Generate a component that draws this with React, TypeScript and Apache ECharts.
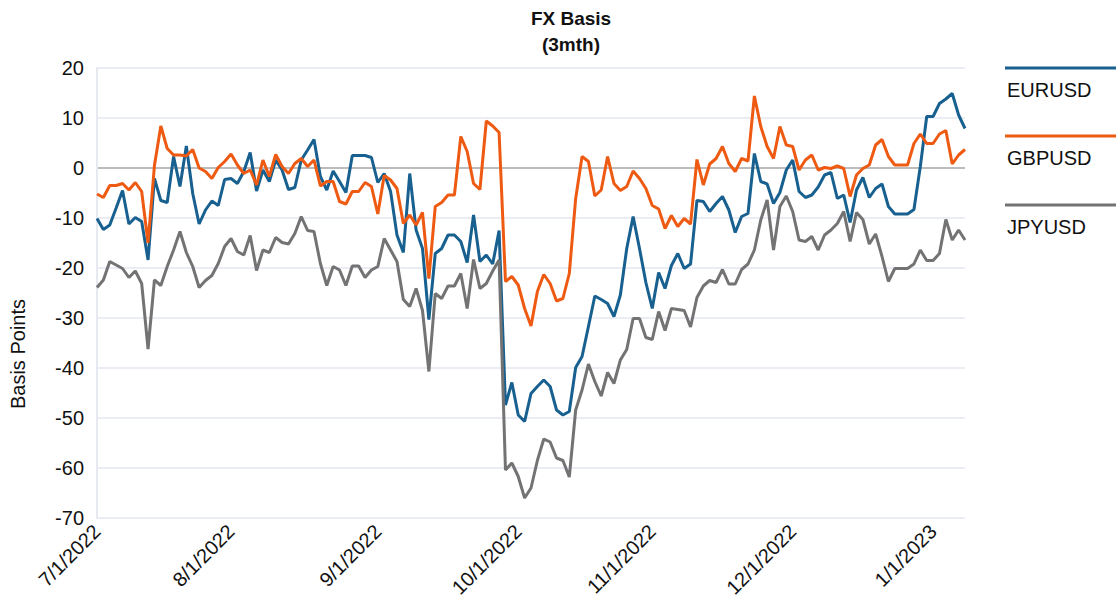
import React, { useEffect, useRef } from "react";
import * as echarts from "echarts";

const EURUSD = [
  -10.1, -12.3, -11.4, -8, -4.5, -11.2, -9.9, -10.7, -18.4, -2.1,
  -6.5, -6.9, 2.3, -3.7, 4.4, -5.1, -11.2, -8.4, -6.6, -7.5,
  -2.3, -2.1, -3.1, -0.7, 3.1, -4.6, -0.4, -2.7, 1.6, -0.4,
  -4.3, -3.9, 1.6, 3.6, 5.7, -1.7, -4.4, -0.6, -2.7, -4.9,
  2.5, 2.5, 2.5, 2.1, -2.9, -1.1, -4.7, -13.4, -16.9, -1.1,
  -12.4, -16.1, -30.3, -17.1, -16.1, -13.4, -13.4, -14.7, -18.9, -9.4,
  -18.7, -17.4, -19.2, -12.5, -47.4, -42.9, -49.4, -50.7, -45.1, -43.7,
  -42.4, -43.7, -48.4, -49.4, -48.7, -39.9, -37.7, -31.7, -25.6, -26.3,
  -27.1, -29.7, -25.4, -16.1, -9.7, -16.1, -22.9, -28.1, -20.9, -24.1,
  -19.5, -17.1, -20.1, -19.2, -6.5, -6.7, -8.7, -7.1, -5.7, -8.4,
  -12.9, -9.7, -9.1, 2.9, -2.7, -3.2, -7.1, -4.9, -0.4, 1.6,
  -4.7, -5.9, -5.4, -3.8, -1.4, -0.9, -6.1, -5.4, -10.9, -4.4,
  -1.9, -5.9, -4.1, -3.2, -7.7, -9.2, -9.2, -9.2, -8.3, 0.3,
  10.3, 10.3, 12.9, 13.8, 14.9, 10.6, 7.9,
];

const GBPUSD = [
  -5.2, -5.9, -3.5, -3.5, -3.1, -4.4, -2.9, -4.7, -15, 0.5,
  8.4, 3.9, 2.6, 2.6, 2.4, 3.7, 0, -0.7, -2.1, 0.1,
  1.3, 2.8, 0.6, -1.1, -0.4, -3.4, 1.6, -1.7, 2.7, 0.3,
  -1.1, 0.9, 1.9, 0.3, 1.6, -3.6, -2.7, -2.7, -6.7, -7.2,
  -4.7, -4.7, -2.9, -3.7, -9.2, -1.5, -2.4, -4.1, -11.1, -9.4,
  -11.4, -8.9, -22.1, -7.7, -6.9, -5.4, -5.4, 6.3, 3.3, -3.1,
  -4.3, 9.4, 8.4, 7.1, -22.7, -21.7, -23.4, -28.1, -31.6, -24.7,
  -21.3, -23.1, -26.6, -26.1, -21.1, -6.1, 2.3, 1.3, -5.6, -4.4,
  2.3, -3.1, -4.5, -3.7, -0.6, -2.1, -4.1, -7.5, -8.2, -12.1,
  -9.5, -11.7, -10.1, -11.2, 1.7, -3.4, 0.8, 1.9, 4.3, 0.9,
  -0.7, 1.9, 1.4, 14.4, 8.3, 4.3, 1.9, 8.3, 4.6, 4.3,
  -0.4, 1.6, 2.6, -0.4, 0.1, -0.1, 0.4, -0.1, -5.7, -1.4,
  -0.1, 0.6, 4.6, 5.7, 2.3, 0.6, 0.6, 0.6, 4.9, 6.8,
  4.9, 4.9, 6.8, 7.5, 0.8, 2.6, 3.7,
];

const JPYUSD = [
  -23.9, -22.4, -18.7, -19.4, -20.1, -21.9, -20.6, -23.1, -36.2, -22.4,
  -23.5, -19.7, -16.4, -12.7, -16.9, -19.7, -23.9, -22.5, -21.5, -19.1,
  -15.7, -14.1, -16.7, -17.4, -13.5, -20.5, -16.4, -16.9, -13.9, -14.9,
  -15.2, -13.1, -9.7, -12.5, -12.7, -19.1, -23.5, -19.7, -20.4, -23.5,
  -19.6, -19.6, -21.9, -20.4, -19.7, -14.1, -16.4, -18.7, -26.3, -27.7,
  -24.1, -28.5, -40.7, -25.1, -26.1, -23.6, -23.6, -21.1, -28.1, -18.3,
  -24.1, -23.1, -20.6, -18.4, -60.4, -59, -61.7, -66, -64, -58.5,
  -54.2, -54.8, -58, -58.5, -61.8, -48.4, -44.4, -39.2, -42.7, -45.6,
  -40.9, -43.1, -38.4, -36.3, -30.1, -30.1, -33.9, -34.3, -28.7, -32.5,
  -28.1, -28.3, -28.5, -31.8, -25.9, -23.6, -22.5, -22.9, -20.3, -23.2,
  -23.2, -20.3, -19.2, -16.4, -10.4, -6.4, -16.4, -7.7, -5.6, -8.7,
  -14.4, -14.7, -13.7, -16.4, -13.4, -12.4, -11.1, -8.7, -14.7, -8.9,
  -10.3, -15.2, -13.2, -17.7, -22.7, -20.1, -20.1, -20.1, -19.2, -16.4,
  -18.5, -18.5, -17.1, -10.3, -14.4, -12.4, -14.4,
];

const START_DATE = "2022-07-01";
const SERIES_NAMES = ["EURUSD", "GBPUSD", "JPYUSD"];
const COLORS = ["#17608f", "#ee5a12", "#737373"];
const Y_MIN = -70;
const Y_MAX = 20;
const Y_STEP = 10;

function weekdays(start: string, count: number): string[] {
  const out: string[] = [];
  const d = new Date(start + "T00:00:00Z");
  while (out.length < count) {
    const wd = d.getUTCDay();
    if (wd !== 0 && wd !== 6) out.push(d.toISOString().slice(0, 10));
    d.setUTCDate(d.getUTCDate() + 1);
  }
  return out;
}

const DATES = weekdays(START_DATE, EURUSD.length);

const FONT = "'Liberation Sans', Arial, Helvetica, sans-serif";
const FS = 20;

export default function App() {
  const ref = useRef<HTMLDivElement>(null);

  useEffect(() => {
    document.body.style.margin = "0";
    if (!ref.current) return;
    const chart = echarts.init(ref.current, undefined, { renderer: "svg" });

    const labelIdx = new Set<number>();
    DATES.forEach((d, i) => {
      if (i === 0 || d.slice(5, 7) !== DATES[i - 1].slice(5, 7)) labelIdx.add(i);
    });

    const tickVals: number[] = [];
    for (let v = Y_MIN; v <= Y_MAX; v += Y_STEP) tickVals.push(v);
    const splitColors = tickVals.map((v) => (v === 0 ? "#bcbcbc" : "#eaeef4"));

    const data = [EURUSD, GBPUSD, JPYUSD];

    const legendGraphics: any[] = [];
    const legendY = [68, 136, 205];
    SERIES_NAMES.forEach((name, i) => {
      legendGraphics.push({
        type: "line",
        shape: { x1: 1005, y1: legendY[i], x2: 1116, y2: legendY[i] },
        style: { stroke: COLORS[i], lineWidth: 3 },
      });
      legendGraphics.push({
        type: "text",
        x: 1007,
        y: legendY[i] + 22,
        style: {
          text: name,
          font: `${FS}px ${FONT}`,
          fill: "#111",
          verticalAlign: "middle",
        },
      });
    });

    chart.setOption({
      animation: false,
      title: {
        text: "FX Basis\n(3mth)",
        left: 566,
        top: 0,
        textAlign: "center",
        textStyle: {
          fontFamily: FONT,
          fontSize: 19,
          fontWeight: "bold",
          color: "#111",
          lineHeight: 26,
        },
      },
      grid: { left: 97, right: 151, top: 68, bottom: 90 },
      xAxis: {
        type: "category",
        data: DATES,
        boundaryGap: false,
        axisLine: { show: false },
        axisTick: { show: false },
        splitLine: { show: false },
        axisLabel: {
          interval: (index: number) => labelIdx.has(index),
          rotate: 45,
          margin: 10,
          fontFamily: FONT,
          fontSize: FS,
          color: "#111",
          formatter: (v: string) => `${parseInt(v.slice(5, 7), 10)}/1/${v.slice(0, 4)}`,
        },
      },
      yAxis: {
        type: "value",
        min: Y_MIN,
        max: Y_MAX,
        interval: Y_STEP,
        axisLine: { show: true, lineStyle: { color: "#e6eaf0", width: 2 } },
        axisTick: { show: false },
        axisLabel: {
          fontFamily: FONT,
          fontSize: FS,
          color: "#111",
          margin: 13,
        },
        splitLine: { show: true, lineStyle: { color: splitColors, width: 2 } },
      },
      graphic: [
        {
          type: "text",
          x: 18,
          y: 354,
          rotation: Math.PI / 2,
          style: {
            text: "Basis Points",
            font: `${FS}px ${FONT}`,
            fill: "#111",
            align: "center",
            verticalAlign: "middle",
          },
        },
        ...legendGraphics,
      ],
      series: SERIES_NAMES.map((name, i) => ({
        name,
        type: "line",
        data: data[i],
        showSymbol: false,
        symbol: "none",
        lineStyle: { color: COLORS[i], width: 3 },
        itemStyle: { color: COLORS[i] },
      })),
    });

    return () => chart.dispose();
  }, []);

  return <div ref={ref} style={{ width: 1116, height: 608 }} />;
}
